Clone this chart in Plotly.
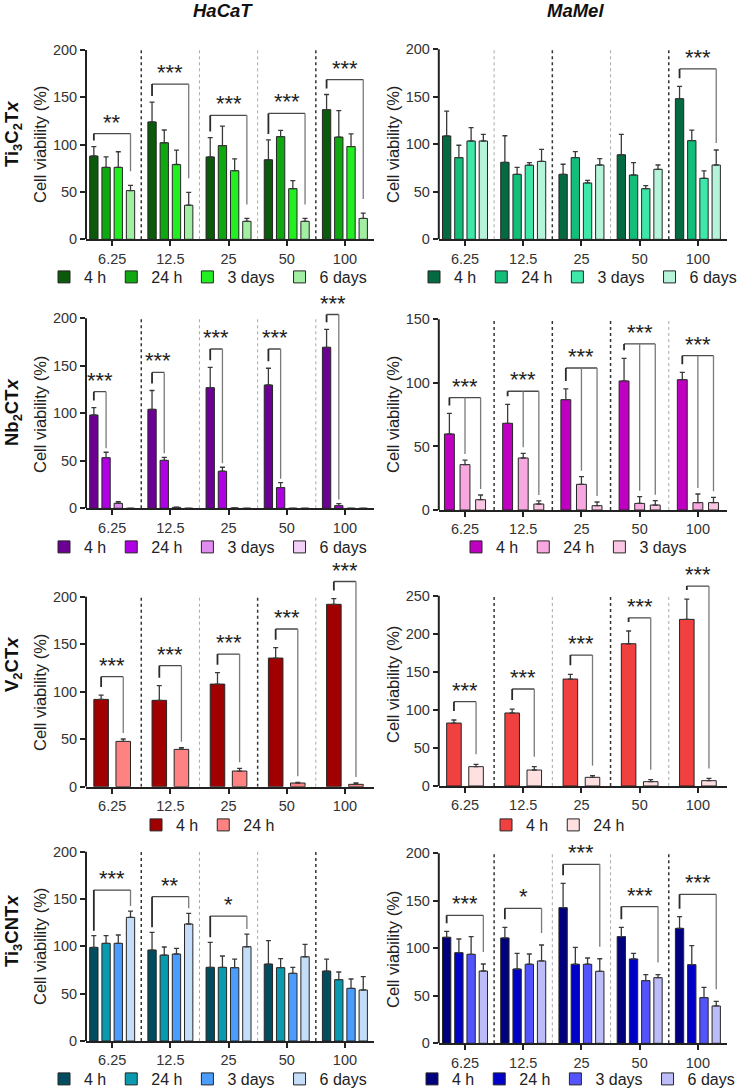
import plotly.graph_objects as go

W, H = 741, 1091

# ---------------- data ----------------
concentrations = ['6.25', '12.5', '25', '50', '100']
times4 = ['4 h', '24 h', '3 days', '6 days']
times3 = ['4 h', '24 h', '3 days']
times2 = ['4 h', '24 h']

# Ti3C2Tx - HaCaT (rows: 4 h, 24 h, 3 days, 6 days)
ti3c2_hacat_mean = [[88, 124, 87, 84, 137],
                    [76, 102, 99, 108.5, 108],
                    [76, 79, 72.5, 53.5, 98],
                    [51.5, 36, 19, 19, 22]]
ti3c2_hacat_err = [[10, 21, 20.5, 21, 16],
                   [11, 13.5, 20.5, 6.5, 28],
                   [16.5, 15.3, 12.5, 8.5, 13.3],
                   [5.5, 13.6, 3, 3, 5.7]]
ti3c2_hacat_sig = ['**', '***', '***', '***', '***']
ti3c2_hacat_sig_y = [111.7, 164, 131, 133, 168.7]
ti3c2_hacat_sig_bars = [0, 3]

# Ti3C2Tx - MaMel
ti3c2_mamel_mean = [[108.8, 81, 68.4, 89, 148],
                    [86, 68.4, 86, 67.7, 103.9],
                    [103.5, 78, 59.3, 53.3, 64.2],
                    [103.5, 82, 78.2, 73.7, 78.2]]
ti3c2_mamel_err = [[26.2, 28, 10.6, 21.5, 13],
                   [13, 7.4, 6.3, 13, 11.1],
                   [14, 2.7, 2.7, 3.2, 7.8],
                   [7, 12.7, 6.8, 4.5, 15.8]]
ti3c2_mamel_sig = [None, None, None, None, '***']
ti3c2_mamel_sig_y = [None, None, None, None, 179.3]
ti3c2_mamel_sig_bars = [0, 3]

# Nb2CTx - HaCaT
nb2c_hacat_mean = [[98.2, 104.2, 127, 129.8, 169.5],
                   [53.3, 50.5, 39, 21.8, 2.8],
                   [5.3, 1, 0.3, 0, 0],
                   [0, 0, 0, 0, 0]]
nb2c_hacat_err = [[7.8, 19.8, 21.4, 17.6, 18.9],
                  [5.7, 3.2, 4.2, 5.2, 2.2],
                  [1.7, 0.3, 0, 0, 0],
                  [0, 0, 0, 0, 0]]
nb2c_hacat_sig = ['***', '***', '***', '***', '***']
nb2c_hacat_sig_y = [122.8, 143, 167.7, 167.7, 204]
nb2c_hacat_sig_bars = [0, 1]

# Nb2CTx - MaMel (4 h, 24 h, 3 days)
nb2c_mamel_mean = [[59.8, 68.2, 86.8, 101.5, 102.5],
                   [35.7, 40.9, 20.2, 5.2, 5.8],
                   [8.1, 4.7, 3.4, 3.9, 5.8]]
nb2c_mamel_err = [[16.2, 14.9, 8.4, 17.8, 5.8],
                  [3.6, 3.7, 6, 5.3, 6.8],
                  [3.7, 2.4, 2.9, 3.4, 4.2]]
nb2c_mamel_sig = ['***', '***', '***', '***', '***']
nb2c_mamel_sig_y = [88.4, 93.4, 111.7, 130.6, 121.4]
nb2c_mamel_sig_bars = [0, 1, 2]

# V2CTx - HaCaT (4 h, 24 h)
v2c_hacat_mean = [[91.9, 90.9, 108, 135.4, 192],
                  [47.7, 39.3, 16.5, 3.9, 2.5]]
v2c_hacat_err = [[4.6, 15.4, 12, 10.9, 6],
                 [2.5, 1.7, 2.8, 0.7, 1.4]]
v2c_hacat_sig = ['***', '***', '***', '***', '***']
v2c_hacat_sig_y = [115.8, 127.4, 139.6, 166, 216]
v2c_hacat_sig_bars = [0, 1]

# V2CTx - MaMel
v2c_mamel_mean = [[82.7, 95.9, 140.5, 186.9, 218.9],
                  [25.4, 21, 11.4, 5.7, 7]]
v2c_mamel_err = [[4, 5.2, 6.2, 16.7, 26.7],
                 [3.1, 4.4, 2.2, 2.6, 3]]
v2c_mamel_sig = ['***', '***', '***', '***', '***']
v2c_mamel_sig_y = [110.8, 127.4, 172, 221, 262.7]
v2c_mamel_sig_bars = [0, 1]

# Ti3CNTx - HaCaT
ti3cn_hacat_mean = [[98.9, 96.1, 77.8, 81.3, 73.9],
                    [103.2, 90.8, 77.8, 77.5, 64.8],
                    [103.2, 91.9, 77.5, 71.5, 55.6],
                    [130.6, 123.6, 99.6, 89, 53.9]]
ti3cn_hacat_err = [[12.4, 18.7, 26.4, 24.7, 12.7],
                   [8.1, 8.5, 12, 9.5, 8.1],
                   [8.8, 6, 9.1, 6.3, 9.9],
                   [6.7, 11.3, 13.4, 13, 14.1]]
ti3cn_hacat_sig = ['***', '**', '*', None, None]
ti3cn_hacat_sig_y = [159.5, 152.5, 132, None, None]
ti3cn_hacat_sig_bars = [0, 3]

# Ti3CNTx - MaMel
ti3cn_mamel_mean = [[111.6, 110.9, 142.8, 112.3, 121],
                    [95.4, 78.2, 83.2, 88.8, 82.8],
                    [93.7, 83.2, 83.2, 66, 48.1],
                    [76.1, 86.7, 75.8, 69.1, 39.3]]
ti3cn_mamel_err = [[6.3, 11.2, 25.6, 9.8, 12.3],
                   [14.4, 16.5, 17.8, 5.9, 20],
                   [18.6, 10.8, 6.6, 6.3, 10.8],
                   [7.4, 16.8, 13.2, 3.2, 4.9]]
ti3cn_mamel_sig = ['***', '*', '***', '***', '***']
ti3cn_mamel_sig_y = [134.7, 142.1, 188.4, 143.9, 156.8]
ti3cn_mamel_sig_bars = [0, 3]

# colours
ti3c2_hacat_colors = ['#0b5a0b', '#10a810', '#22ee22', '#a2eea2']
ti3c2_mamel_colors = ['#046a42', '#12be7a', '#3ee8a8', '#b6f4da']
nb2c_hacat_colors = ['#6c0094', '#b000e4', '#e08cf0', '#f3d0f7']
nb2c_mamel_colors = ['#c000c0', '#f7a8e0', '#fac6e4']
v2c_hacat_colors = ['#a00000', '#ff8282']
v2c_mamel_colors = ['#f04040', '#ffe0e0']
ti3cn_hacat_colors = ['#014c5e', '#0a9ab0', '#4a9dff', '#c4defa']
ti3cn_mamel_colors = ['#00007e', '#0000c6', '#5454ff', '#bcbcf8']

# separator style between concentration groups: 'k' dark dotted, 'g' grey dotted
ti3c2_hacat_seps = ['k', 'g', 'g', 'k']
ti3c2_mamel_seps = ['g', 'k', 'g', 'k']
nb2c_hacat_seps = ['k', 'g', 'g', 'g']
nb2c_mamel_seps = ['k', 'k', 'k', 'g']
v2c_hacat_seps = ['k', 'g', 'k', 'g']
v2c_mamel_seps = ['k', 'g', 'k', 'g']
ti3cn_hacat_seps = ['k', 'g', 'g', 'k']
ti3cn_mamel_seps = ['k', 'g', 'g', 'k']

row_titles = ['<b>Ti<sub>3</sub>C<sub>2</sub>T<i>x</i></b>',
              '<b>Nb<sub>2</sub>CT<i>x</i></b>',
              '<b>V<sub>2</sub>CT<i>x</i></b>',
              '<b>Ti<sub>3</sub>CNT<i>x</i></b>']
col_titles = ['<b><i>HaCaT</i></b>', '<b><i>MaMel</i></b>']
y_title = 'Cell viability (%)'

# ---------------- geometry (pixels) ----------------
panels = [
    dict(mean=ti3c2_hacat_mean, err=ti3c2_hacat_err, labels=times4, colors=ti3c2_hacat_colors,
         sig=ti3c2_hacat_sig, sig_y=ti3c2_hacat_sig_y, sig_bars=ti3c2_hacat_sig_bars,
         seps=ti3c2_hacat_seps, col=0,
         y0=239.3, ppu=189.3 / 200, ymax=215, ytop=200, dtick=50, lx=208, ly=277, yt=145, gl=6, gr=14),
    dict(mean=ti3c2_mamel_mean, err=ti3c2_mamel_err, labels=times4, colors=ti3c2_mamel_colors,
         sig=ti3c2_mamel_sig, sig_y=ti3c2_mamel_sig_y, sig_bars=ti3c2_mamel_sig_bars,
         seps=ti3c2_mamel_seps, col=1,
         y0=239.3, ppu=190 / 200, ymax=215, ytop=200, dtick=50, lx=578, ly=277, yt=145, gl=8, gr=7),
    dict(mean=nb2c_hacat_mean, err=nb2c_hacat_err, labels=times4, colors=nb2c_hacat_colors,
         sig=nb2c_hacat_sig, sig_y=nb2c_hacat_sig_y, sig_bars=nb2c_hacat_sig_bars,
         seps=nb2c_hacat_seps, col=0,
         y0=508.3, ppu=190 / 200, ymax=232, ytop=200, dtick=50, lx=208, ly=547, yt=415, gl=7, gr=4),
    dict(mean=nb2c_mamel_mean, err=nb2c_mamel_err, labels=times3, colors=nb2c_mamel_colors,
         sig=nb2c_mamel_sig, sig_y=nb2c_mamel_sig_y, sig_bars=nb2c_mamel_sig_bars,
         seps=nb2c_mamel_seps, col=1,
         y0=510, ppu=190.7 / 150, ymax=155, ytop=150, dtick=50, lx=574, ly=547, yt=415, gl=8, gr=6),
    dict(mean=v2c_hacat_mean, err=v2c_hacat_err, labels=times2, colors=v2c_hacat_colors,
         sig=v2c_hacat_sig, sig_y=v2c_hacat_sig_y, sig_bars=v2c_hacat_sig_bars,
         seps=v2c_hacat_seps, col=0,
         y0=786.7, ppu=190 / 200, ymax=236, ytop=200, dtick=50, lx=208, ly=825, yt=693, gl=8, gr=6),
    dict(mean=v2c_mamel_mean, err=v2c_mamel_err, labels=times2, colors=v2c_mamel_colors,
         sig=v2c_mamel_sig, sig_y=v2c_mamel_sig_y, sig_bars=v2c_mamel_sig_bars,
         seps=v2c_mamel_seps, col=1,
         y0=786, ppu=190.3 / 250, ymax=292, ytop=250, dtick=50, lx=558, ly=825, yt=685, gl=9, gr=10),
    dict(mean=ti3cn_hacat_mean, err=ti3cn_hacat_err, labels=times4, colors=ti3cn_hacat_colors,
         sig=ti3cn_hacat_sig, sig_y=ti3cn_hacat_sig_y, sig_bars=ti3cn_hacat_sig_bars,
         seps=ti3cn_hacat_seps, col=0,
         y0=1041, ppu=189.3 / 200, ymax=215, ytop=200, dtick=50, lx=208, ly=1079, yt=947, gl=5, gr=5),
    dict(mean=ti3cn_mamel_mean, err=ti3cn_mamel_err, labels=times4, colors=ti3cn_mamel_colors,
         sig=ti3cn_mamel_sig, sig_y=ti3cn_mamel_sig_y, sig_bars=ti3cn_mamel_sig_bars,
         seps=ti3cn_mamel_seps, col=1,
         y0=1043.3, ppu=190 / 200, ymax=215, ytop=200, dtick=50, lx=576, ly=1079, yt=950, gl=8, gr=12),
]
row_title_y = [134, 412, 665, 931]

col_x = [(86, 374), (438.8, 727)]
x_range = [-0.45, 4.5]
bar_layout = {4: (0.21, 0.143), 3: (0.268, 0.17), 2: (0.38, 0.25)}

FONT = 'Liberation Sans, Arial, sans-serif'
fig = go.Figure()
shapes, annotations = [], []
layout = dict(width=W, height=H, margin=dict(l=0, r=0, t=0, b=0, autoexpand=False),
              paper_bgcolor='white', plot_bgcolor='white', barmode='overlay',
              font=dict(family=FONT, color='#222'), showlegend=True)

xs = list(range(len(concentrations)))
for i, p in enumerate(panels, start=1):
    sfx = '' if i == 1 else str(i)
    xa, ya = 'x' + sfx, 'y' + sfx
    leg = 'legend' + sfx
    n = len(p['labels'])
    pitch, bw = bar_layout[n]
    shifts = [(k - (n - 1) / 2) * pitch for k in range(n)]
    for k in range(n):
        fig.add_trace(go.Bar(
            x=xs, y=p['mean'][k], name=p['labels'][k],
            offset=shifts[k] - bw / 2, width=bw,
            marker=dict(color=p['colors'][k], line=dict(color='#262626', width=1)),
            error_y=dict(type='data', symmetric=False, array=p['err'][k],
                         arrayminus=[0] * len(xs), color='#3a3a3a', thickness=1.3, width=2.5),
            xaxis=xa, yaxis=ya, legend=leg, showlegend=True))
    xl, xr = col_x[p['col']]
    top_px = p['y0'] - p['ymax'] * p['ppu']
    layout['xaxis' + sfx] = dict(domain=[xl / W, xr / W], range=x_range, anchor=ya,
                                 tickmode='array', tickvals=xs, ticktext=concentrations,
                                 showline=True, linewidth=2, linecolor='#222', ticks='outside',
                                 ticklen=5, tickwidth=2, tickcolor='#222', showgrid=False,
                                 zeroline=False, tickfont=dict(size=14.5, color='#333'), fixedrange=True)
    layout['yaxis' + sfx] = dict(domain=[1 - p['y0'] / H, 1 - top_px / H], range=[0, p['ymax']],
                                 anchor=xa, tickmode='array',
                                 tickvals=list(range(0, p['ytop'] + 1, p['dtick'])),
                                 showline=False, ticks='outside', ticklen=5, tickwidth=2,
                                 tickcolor='#222', showgrid=False, zeroline=False,
                                 tickfont=dict(size=14.5, color='#333'), fixedrange=True)
    layout[leg] = dict(orientation='h', x=p['lx'] / W, y=1 - p['ly'] / H, xanchor='center',
                       yanchor='middle', font=dict(size=16, color='#222', family=FONT),
                       bgcolor='rgba(0,0,0,0)', traceorder='normal', itemwidth=30)
    # y axis line only up to top tick
    shapes.append(dict(type='line', xref=xa + ' domain', yref=ya, x0=0, x1=0, y0=0, y1=p['ytop'],
                       line=dict(color='#222', width=2)))
    # separators
    for j, s in enumerate(p['seps']):
        style = dict(color='#333', width=1.5, dash='dot') if s == 'k' else dict(color='#a8a8a8', width=1, dash='dot')
        shapes.append(dict(type='line', xref=xa, yref=ya, x0=j + 0.5, x1=j + 0.5, y0=0, y1=p['ytop'], line=style))
    # significance brackets
    gl_u = p['gl'] / p['ppu']
    gr_u = p['gr'] / p['ppu']
    b0, b_rest = p['sig_bars'][0], p['sig_bars'][1:]
    for j, (s, yb) in enumerate(zip(p['sig'], p['sig_y'])):
        if s is None:
            continue
        xa_ = j + shifts[b0]
        xb_ = j + shifts[b_rest[-1]]
        top_a = p['mean'][b0][j] + p['err'][b0][j]
        shapes.append(dict(type='line', xref=xa, yref=ya, x0=xa_, x1=xb_, y0=yb, y1=yb,
                           line=dict(color='#4a4a4a', width=1.3)))
        shapes.append(dict(type='line', xref=xa, yref=ya, x0=xa_, x1=xa_, y0=yb,
                           y1=min(yb, top_a + gl_u), line=dict(color='#2a2a2a', width=1.8)))
        for k in b_rest:
            top_k = p['mean'][k][j] + p['err'][k][j]
            xk = j + shifts[k]
            shapes.append(dict(type='line', xref=xa, yref=ya, x0=xk, x1=xk, y0=yb,
                               y1=min(yb, top_k + gr_u), line=dict(color='#7a7a7a', width=1.3)))
        annotations.append(dict(xref=xa, yref=ya, x=(xa_ + xb_) / 2, y=yb, text=s, showarrow=False,
                                yanchor='bottom', yshift=-3, font=dict(size=22, color='#222', family=FONT)))
    # y axis title
    tx = 40 if p['col'] == 0 else 393
    annotations.append(dict(xref='paper', yref='paper', x=tx / W, y=1 - p['yt'] / H, text=y_title,
                            textangle=-90, showarrow=False, xanchor='center', yanchor='middle',
                            font=dict(size=16.5, color='#222', family=FONT)))

for r, (t, ty) in enumerate(zip(row_titles, row_title_y)):
    annotations.append(dict(xref='paper', yref='paper', x=13 / W, y=1 - ty / H, text=t, textangle=-90,
                            showarrow=False, xanchor='center', yanchor='middle',
                            font=dict(size=18.5, color='#111', family=FONT)))
for t, cx in zip(col_titles, [223, 575]):
    annotations.append(dict(xref='paper', yref='paper', x=cx / W, y=1 - 11 / H, text=t,
                            showarrow=False, xanchor='center', yanchor='middle',
                            font=dict(size=18.5, color='#111', family=FONT)))

layout['shapes'] = shapes
layout['annotations'] = annotations
fig.update_layout(**layout)
fig.write_html('out.html')
